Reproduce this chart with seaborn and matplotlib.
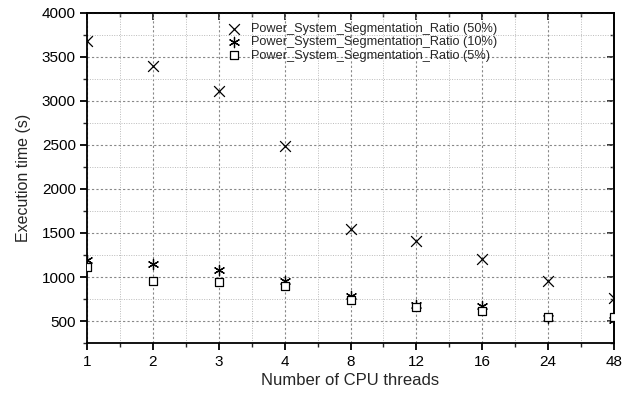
import numpy as np
import pandas as pd
import matplotlib
matplotlib.use("Agg")
import matplotlib.pyplot as plt
import seaborn as sns
from matplotlib.ticker import MultipleLocator, FixedLocator

threads = ["1", "2", "3", "4", "8", "12", "16", "24", "48"]
ratio_50 = [3680, 3400, 3110, 2485, 1550, 1410, 1200, 950, 760]
ratio_10 = [1190, 1145, 1080, 960, 780, 685, 675, 535, 515]
ratio_5 = [1115, 960, 940, 900, 740, 660, 610, 550, 540]
series_names = [
    "Power_System_Segmentation_Ratio (50%)",
    "Power_System_Segmentation_Ratio (10%)",
    "Power_System_Segmentation_Ratio (5%)",
]

frames = []
for name, vals in zip(series_names, [ratio_50, ratio_10, ratio_5]):
    frames.append(pd.DataFrame({"threads": threads, "time": vals, "series": name}))
df = pd.concat(frames, ignore_index=True)

sns.set_theme(style="ticks")
plt.rcParams["font.family"] = ["Liberation Sans", "DejaVu Sans"]

fig = plt.figure(figsize=(6.24, 3.93), dpi=100)
ax = fig.add_axes([0.1394, 0.1272, 0.8446, 0.8398])

marker_map = {
    series_names[0]: "x",
    series_names[1]: (6, 2, 0),
    series_names[2]: "s",
}
size_map = {series_names[0]: 60, series_names[1]: 55, series_names[2]: 40}

for name in series_names:
    sub = df[df["series"] == name]
    mk = marker_map[name]
    if mk == "s":
        sns.scatterplot(data=sub, x="threads", y="time", marker=mk, s=size_map[name],
                        facecolor="white", edgecolor="black", linewidth=0.9,
                        ax=ax, label=name, zorder=3)
    else:
        sns.scatterplot(data=sub, x="threads", y="time", marker=mk, s=size_map[name],
                        color="black", linewidth=0.9, ax=ax, label=name, zorder=3)

ax.set_xlim(0, len(threads) - 1)
ax.set_ylim(250, 4000)
ax.yaxis.set_major_locator(MultipleLocator(500))
ax.yaxis.set_minor_locator(MultipleLocator(250))
ax.xaxis.set_major_locator(FixedLocator(np.arange(len(threads))))
ax.xaxis.set_minor_locator(FixedLocator(np.arange(len(threads) - 1) + 0.5))
ax.set_xticklabels(threads)

ax.grid(True, which="major", color="#888888", linestyle=(0, (2, 2)), linewidth=0.8)
ax.grid(True, which="minor", color="#bbbbbb", linestyle=(0, (1, 1.5)), linewidth=0.7)
ax.set_axisbelow(True)

for sp in ax.spines.values():
    sp.set_visible(True)
    sp.set_color("black")
    sp.set_linewidth(1.3)

ax.tick_params(axis="both", which="major", direction="out", length=5, width=1.3,
               labelsize=11, colors="black", top=False, right=False)
ax.tick_params(axis="both", which="minor", direction="out", length=3, width=1.0,
               top=False, right=False)
ax.tick_params(axis="y", which="major", pad=3)

# mirrored inward ticks on the top and right spines
ax_top = ax.secondary_xaxis("top")
ax_top.set_xticks(np.arange(len(threads)))
ax_top.xaxis.set_minor_locator(FixedLocator(np.arange(len(threads) - 1) + 0.5))
ax_top.tick_params(which="major", direction="in", length=5, width=1.3, labeltop=False)
ax_top.tick_params(which="minor", direction="in", length=3, width=1.0)
ax_top.spines["top"].set_linewidth(1.3)
ax_right = ax.secondary_yaxis("right")
ax_right.yaxis.set_major_locator(MultipleLocator(500))
ax_right.yaxis.set_minor_locator(MultipleLocator(250))
ax_right.tick_params(which="major", direction="in", length=5, width=1.3, labelright=False)
ax_right.tick_params(which="minor", direction="in", length=3, width=1.0)
ax_right.spines["right"].set_linewidth(1.3)

ax.set_xlabel("Number of CPU threads", fontsize=12, labelpad=3)
ax.set_ylabel("Execution time (s)", fontsize=11.5, labelpad=8)

leg = ax.legend(loc="upper left", bbox_to_anchor=(0.255, 0.985), frameon=False,
                fontsize=9.2, handletextpad=0.7, labelspacing=0.1,
                handlelength=1.2, borderaxespad=0)
for h in leg.legend_handles:
    h.set_edgecolor("black")

fig.savefig("out.png", dpi=100)
